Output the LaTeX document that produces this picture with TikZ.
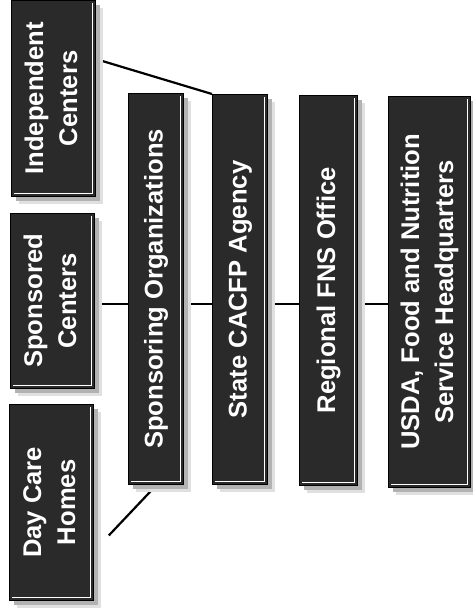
\documentclass[tikz,border=0pt]{standalone}
\usepackage{fontspec}
\setmainfont{Liberation Sans}
\usetikzlibrary{shadows,calc}
\definecolor{boxfill}{HTML}{2A2A2A}
\pgfdeclarelayer{background}
\pgfsetlayers{background,main}
\newcommand{\vlabel}[1]{\rotatebox{90}{\begin{tabular}{@{}c@{}}#1\end{tabular}}}
\begin{document}
\begin{tikzpicture}[x=1pt,y=-1pt,
  box/.style={draw=black, line width=0.8pt, fill=boxfill, text=white,
    font=\bfseries\fontsize{25.6}{34}\selectfont, inner sep=0pt, anchor=north west,
    general shadow={fill=black!12, shadow xshift=8pt, shadow yshift=-8pt},
    general shadow={fill=black!30, shadow xshift=5pt, shadow yshift=-5pt}},
  link/.style={line width=2.2pt, black},
  bevel/.style={white, line width=0.9pt}]
\useasboundingbox (0,0) rectangle (472,614);
% boxes
\node[box, minimum width=84pt, minimum height=196pt] (IC) at (11,0) {\vlabel{Independent\\Centers}};
\node[box, minimum width=84pt, minimum height=175pt] (SC) at (10,213) {\vlabel{Sponsored\\Centers}};
\node[box, minimum width=84pt, minimum height=196pt] (DCH) at (9,404) {\vlabel{Day Care\\Homes}};
\node[box, minimum width=55pt, minimum height=391pt] (SO) at (128,93) {\vlabel{Sponsoring Organizations}};
\node[box, minimum width=55pt, minimum height=390pt] (ST) at (212,94) {\vlabel{State CACFP Agency}};
\node[box, minimum width=58pt, minimum height=390pt] (RF) at (299,95) {\vlabel{Regional FNS Office}};
\node[box, minimum width=82pt, minimum height=391pt] (US) at (388,96) {\vlabel{USDA, Food and Nutrition\\Service Headquarters}};
% bevel lines
\foreach \n in {IC,SC,DCH,SO,ST,RF,US}{
  \draw[bevel] ([shift={(-3,3)}]\n.north east) -- ([shift={(-3,-3)}]\n.south east) -- ([shift={(3,-3)}]\n.south west);
}
% connectors
\coordinate (hl) at (0,304);
\begin{pgfonlayer}{background}
\draw[link] (SC.east |- hl) -- (SO.west |- hl);
\draw[link] (SO.east |- hl) -- (ST.west |- hl);
\draw[link] (ST.east |- hl) -- (RF.west |- hl);
\draw[link] (RF.east |- hl) -- (US.west |- hl);
\draw[link] ($(IC.north east)!0.3!(IC.south east)$) -- (ST.north west);
\draw[link] ($(DCH.north east)!0.668!(DCH.south east)+(15,0)$) -- ($(SO.south)+(-2,3)$);
\end{pgfonlayer}
\end{tikzpicture}
\end{document}
